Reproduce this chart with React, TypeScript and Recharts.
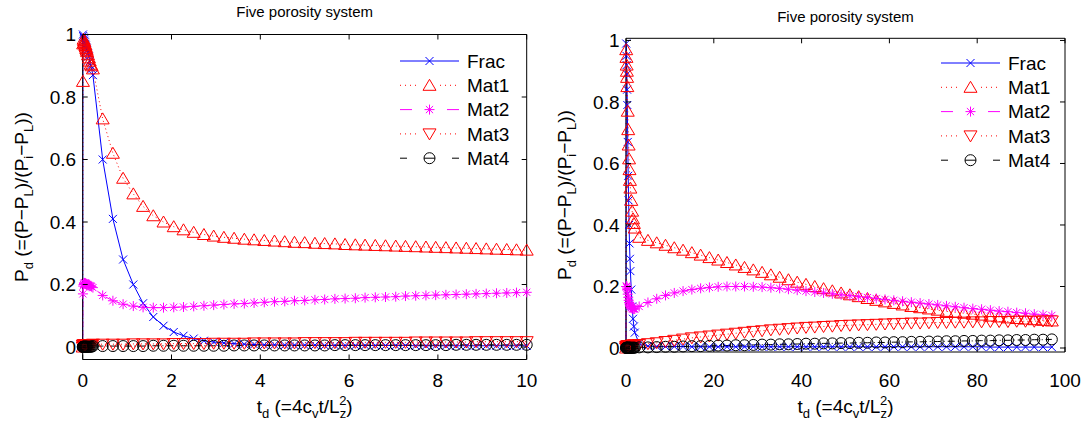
import React from 'react';
import { LineChart, Line, XAxis, YAxis } from 'recharts';

const W = 1088;
const H = 430;
const FONT = '"Liberation Sans", Arial, Helvetica, sans-serif';

// ---------------- Left panel (t_d 0..10) ----------------
const T_LEFT = [
  0, 0.005, 0.01, 0.02, 0.03, 0.04, 0.05, 0.06, 0.07, 0.08, 0.09, 0.1, 0.12, 0.14, 0.16, 0.18, 0.2,
  0.23, 0.45, 0.68, 0.91, 1.14, 1.36, 1.59, 1.82, 2.05, 2.27,
  2.5, 2.73, 2.95, 3.18, 3.41, 3.64, 3.86, 4.09, 4.32, 4.55,
  4.77, 5.0, 5.23, 5.45, 5.68, 5.91, 6.14, 6.36, 6.59, 6.82,
  7.05, 7.27, 7.5, 7.73, 7.95, 8.18, 8.41, 8.64, 8.86, 9.09,
  9.32, 9.55, 9.77, 10.0,
];
const FRAC_LEFT = [
  0, 1.0, 0.995, 0.99, 0.985, 0.98, 0.975, 0.97, 0.965, 0.96, 0.955, 0.95, 0.94, 0.93, 0.915, 0.9, 0.89,
  0.87, 0.6, 0.41, 0.28, 0.2, 0.14, 0.096, 0.068, 0.048, 0.036,
  0.027, 0.02, 0.016, 0.013, 0.011, 0.009, 0.008, 0.007, 0.007, 0.006,
  0.006, 0.006, 0.006, 0.005, 0.005, 0.005, 0.005, 0.005, 0.005, 0.005,
  0.005, 0.005, 0.004, 0.004, 0.004, 0.004, 0.004, 0.004, 0.004, 0.004,
  0.004, 0.004, 0.004, 0.004,
];
const MAT1_LEFT = [
  0, 0.85, 0.97, 0.985, 0.98, 0.975, 0.97, 0.965, 0.96, 0.955, 0.95, 0.945, 0.935, 0.925, 0.915, 0.905, 0.9,
  0.89, 0.73, 0.62, 0.54, 0.49, 0.45, 0.42, 0.4, 0.385, 0.375,
  0.367, 0.36, 0.355, 0.351, 0.348, 0.345, 0.343, 0.341, 0.339, 0.337,
  0.335, 0.334, 0.332, 0.331, 0.33, 0.328, 0.327, 0.326, 0.325, 0.324,
  0.323, 0.322, 0.321, 0.32, 0.319, 0.318, 0.317, 0.316, 0.315, 0.314,
  0.313, 0.312, 0.311, 0.31,
];
const MAT2_LEFT = [
  0, 0.17, 0.195, 0.2, 0.203, 0.205, 0.205, 0.204, 0.203, 0.202, 0.2, 0.2, 0.198, 0.197, 0.196, 0.195, 0.193,
  0.19, 0.165, 0.148, 0.137, 0.131, 0.127, 0.126, 0.126, 0.127, 0.128,
  0.13, 0.132, 0.134, 0.136, 0.138, 0.139, 0.141, 0.143, 0.145, 0.146,
  0.148, 0.149, 0.151, 0.152, 0.154, 0.155, 0.156, 0.158, 0.159, 0.16,
  0.161, 0.163, 0.164, 0.165, 0.166, 0.167, 0.168, 0.169, 0.17, 0.171,
  0.172, 0.173, 0.174, 0.175,
];
const MAT3_LEFT = [
  0, 0.005, 0.006, 0.007, 0.007, 0.008, 0.008, 0.008, 0.008, 0.008, 0.008, 0.008, 0.008, 0.008, 0.008, 0.008, 0.008,
  0.009, 0.009, 0.009, 0.009, 0.01, 0.01, 0.01, 0.01, 0.011, 0.011,
  0.011, 0.011, 0.012, 0.012, 0.012, 0.012, 0.013, 0.013, 0.013, 0.013,
  0.013, 0.014, 0.014, 0.014, 0.014, 0.014, 0.015, 0.015, 0.015, 0.015,
  0.015, 0.015, 0.016, 0.016, 0.016, 0.016, 0.016, 0.016, 0.017, 0.017,
  0.017, 0.017, 0.017, 0.017,
];
const MAT4_LEFT = [
  0, 0.001, 0.001, 0.001, 0.001, 0.001, 0.001, 0.001, 0.001, 0.001, 0.001, 0.001, 0.001, 0.001, 0.001, 0.001, 0.001,
  0.003, 0.003, 0.003, 0.003, 0.003, 0.003, 0.004, 0.004, 0.004, 0.004,
  0.004, 0.004, 0.004, 0.004, 0.005, 0.005, 0.005, 0.005, 0.005, 0.005,
  0.005, 0.005, 0.005, 0.005, 0.006, 0.006, 0.006, 0.006, 0.006, 0.006,
  0.006, 0.006, 0.006, 0.006, 0.006, 0.006, 0.007, 0.007, 0.007, 0.007,
  0.007, 0.007, 0.007, 0.007,
];

// ---------------- Right panel (t_d 0..100) ----------------
const T_RIGHT = [
  0, 0.05, 0.1, 0.15, 0.2, 0.25, 0.3, 0.4, 0.5, 0.6, 0.7, 0.8, 0.9, 1.0, 1.2, 1.4, 1.6, 1.8, 2.0,
  3, 5, 7, 9, 11, 13, 15, 17, 19, 21,
  23, 25, 27, 29, 31, 33, 35, 37, 39, 41,
  43, 45, 47, 49, 51, 53, 55, 57, 59, 61,
  63, 65, 67, 69, 71, 73, 75, 77, 79, 81,
  83, 85, 87, 89, 91, 93, 95, 97,
];
const FRAC_RIGHT = [
  0, 0.99, 0.95, 0.92, 0.89, 0.84, 0.79, 0.67, 0.56, 0.48, 0.4, 0.34, 0.29, 0.25, 0.19, 0.135, 0.095, 0.07, 0.05,
  0.015, 0.006, 0.005, 0.005, 0.005, 0.005, 0.004, 0.004, 0.004, 0.004,
  0.004, 0.004, 0.004, 0.004, 0.004, 0.004, 0.004, 0.004, 0.004, 0.004,
  0.004, 0.004, 0.004, 0.004, 0.004, 0.004, 0.004, 0.004, 0.004, 0.004,
  0.004, 0.004, 0.004, 0.004, 0.004, 0.004, 0.004, 0.004, 0.004, 0.004,
  0.003, 0.003, 0.003, 0.003, 0.003, 0.003, 0.003, 0.003,
];
const MAT1_RIGHT = [
  0, 0.97, 0.945, 0.92, 0.9, 0.88, 0.85, 0.77, 0.71, 0.66, 0.615, 0.58, 0.545, 0.52, 0.48, 0.445, 0.42, 0.405, 0.39,
  0.36, 0.35, 0.342, 0.334, 0.326, 0.318, 0.31, 0.302, 0.294, 0.286,
  0.278, 0.27, 0.262, 0.254, 0.246, 0.238, 0.23, 0.222, 0.214, 0.207,
  0.2, 0.193, 0.186, 0.179, 0.173, 0.167, 0.161, 0.155, 0.15, 0.145,
  0.14, 0.135, 0.131, 0.127, 0.123, 0.119, 0.116, 0.113, 0.11, 0.107,
  0.104, 0.101, 0.098, 0.096, 0.094, 0.092, 0.09, 0.088,
];
const MAT2_RIGHT = [
  0, 0.2, 0.2, 0.2, 0.2, 0.195, 0.19, 0.175, 0.165, 0.155, 0.148, 0.143, 0.139, 0.135, 0.131, 0.128, 0.127, 0.127, 0.127,
  0.135, 0.148, 0.16, 0.171, 0.179, 0.185, 0.19, 0.194, 0.197, 0.199,
  0.2, 0.2, 0.2, 0.199, 0.198, 0.196, 0.194, 0.191, 0.188, 0.185,
  0.182, 0.179, 0.176, 0.173, 0.17, 0.167, 0.164, 0.161, 0.158, 0.155,
  0.152, 0.149, 0.146, 0.143, 0.14, 0.137, 0.134, 0.131, 0.128, 0.126,
  0.123, 0.12, 0.118, 0.115, 0.113, 0.11, 0.108, 0.106,
];
const MAT3_RIGHT = [
  0, 0.004, 0.005, 0.005, 0.006, 0.006, 0.006, 0.007, 0.007, 0.007, 0.008, 0.008, 0.008, 0.008, 0.009, 0.009, 0.009, 0.01, 0.01,
  0.011, 0.014, 0.017, 0.021, 0.025, 0.029, 0.033, 0.036, 0.039, 0.042,
  0.045, 0.048, 0.051, 0.054, 0.056, 0.059, 0.061, 0.063, 0.065, 0.067,
  0.068, 0.07, 0.071, 0.073, 0.074, 0.075, 0.076, 0.077, 0.078, 0.079,
  0.08, 0.081, 0.081, 0.082, 0.083, 0.083, 0.084, 0.084, 0.085, 0.085,
  0.086, 0.086, 0.086, 0.087, 0.087, 0.087, 0.088, 0.088,
];
const MAT4_RIGHT = [
  0, 0.001, 0.001, 0.001, 0.001, 0.001, 0.001, 0.001, 0.001, 0.001, 0.001, 0.001, 0.001, 0.001, 0.001, 0.001, 0.001, 0.001, 0.001,
  0.002, 0.002, 0.003, 0.004, 0.004, 0.005, 0.006, 0.006, 0.007, 0.008,
  0.008, 0.009, 0.009, 0.01, 0.011, 0.011, 0.012, 0.012, 0.013, 0.014,
  0.014, 0.015, 0.015, 0.016, 0.016, 0.017, 0.017, 0.018, 0.018, 0.019,
  0.019, 0.02, 0.02, 0.021, 0.021, 0.022, 0.022, 0.023, 0.023, 0.024,
  0.024, 0.025, 0.025, 0.026, 0.026, 0.027, 0.027, 0.028,
];

const LEFT_X_TICKS = [0, 2, 4, 6, 8, 10];
const RIGHT_X_TICKS = [0, 20, 40, 60, 80, 100];
const Y_TICKS = [0, 0.2, 0.4, 0.6, 0.8, 1];

const TITLE = 'Five porosity system';
const SERIES_NAMES = ['Frac', 'Mat1', 'Mat2', 'Mat3', 'Mat4'];

type Kind = 'x' | 'tri' | 'star' | 'tridown' | 'circle';
const STYLES: { color: string; kind: Kind; dash?: string }[] = [
  { color: '#0000ff', kind: 'x' },
  { color: '#ff0000', kind: 'tri', dash: '1 3' },
  { color: '#ff00ff', kind: 'star', dash: '6 4' },
  { color: '#ff0000', kind: 'tridown', dash: '1 3' },
  { color: '#000000', kind: 'circle', dash: '7 3 1 3' },
];

function Mark({ kind, cx, cy, color }: { kind: Kind; cx: number; cy: number; color: string }) {
  const common = { stroke: color, strokeWidth: 1, fill: 'none' };
  switch (kind) {
    case 'x':
      return <path d={`M${cx - 4},${cy - 4}L${cx + 4},${cy + 4}M${cx - 4},${cy + 4}L${cx + 4},${cy - 4}`} {...common} />;
    case 'tri':
      return <path d={`M${cx},${cy - 6}L${cx + 6.5},${cy + 5}L${cx - 6.5},${cy + 5}Z`} {...common} />;
    case 'tridown':
      return <path d={`M${cx - 6.5},${cy - 5}L${cx + 6.5},${cy - 5}L${cx},${cy + 6}Z`} {...common} />;
    case 'star':
      return (
        <path
          d={`M${cx - 5},${cy}L${cx + 5},${cy}M${cx},${cy - 5}L${cx},${cy + 5}M${cx - 3.6},${cy - 3.6}L${cx + 3.6},${cy + 3.6}M${cx - 3.6},${cy + 3.6}L${cx + 3.6},${cy - 3.6}`}
          {...common}
        />
      );
    default:
      return <circle cx={cx} cy={cy} r={5.5} {...common} />;
  }
}

const toPts = (t: number[], v: number[]) => t.map((x, i) => ({ t: x, y: v[i] }));

type Box = { x0: number; x1: number; y0: number; y1: number };
const TL = 5;
const LABEL_BASELINE = 387;

function Panel({
  t,
  series,
  box,
  xDomain,
  yDomain,
  xTicks,
}: {
  t: number[];
  series: number[][];
  box: Box;
  xDomain: [number, number];
  yDomain: [number, number];
  xTicks: number[];
}) {
  // each axis takes 1px of the margin (Recharts does not draw zero-size axes)
  const margin = { left: box.x0 - 1, right: W - box.x1 - 1, top: box.y0 - 1, bottom: H - box.y1 - 1 };
  const bottomTick = (p: any) => (
    <g>
      <line x1={p.x} y1={p.y} x2={p.x} y2={p.y - TL} stroke="#000" />
      <text x={p.x} y={LABEL_BASELINE} textAnchor="middle" fontSize={19} fontFamily={FONT} fill="#000">
        {String(p.payload.value)}
      </text>
    </g>
  );
  const topTick = (p: any) => <line x1={p.x} y1={p.y} x2={p.x} y2={p.y + TL} stroke="#000" />;
  const leftTick = (p: any) => (
    <g>
      <line x1={p.x} y1={p.y} x2={p.x + TL} y2={p.y} stroke="#000" />
      <text x={p.x - 6.5} y={p.y + 6.8} textAnchor="end" fontSize={19} fontFamily={FONT} fill="#000">
        {String(p.payload.value)}
      </text>
    </g>
  );
  const rightTick = (p: any) => <line x1={p.x} y1={p.y} x2={p.x - TL} y2={p.y} stroke="#000" />;
  const axisLine = { stroke: '#000', strokeWidth: 1 };
  return (
    <div style={{ position: 'absolute', left: 0, top: 0 }}>
      <LineChart width={W} height={H} margin={margin}>
        <XAxis
          xAxisId="b"
          type="number"
          dataKey="t"
          domain={xDomain}
          ticks={xTicks}
          interval={0}
          height={1}
          tickSize={0}
          tickMargin={0}
          tickLine={false}
          axisLine={axisLine}
          tick={bottomTick}
        />
        <XAxis
          xAxisId="top"
          orientation="top"
          type="number"
          dataKey="t"
          domain={xDomain}
          ticks={xTicks}
          interval={0}
          height={1}
          tickSize={0}
          tickMargin={0}
          tickLine={false}
          axisLine={axisLine}
          tick={topTick}
          allowDataOverflow
        />
        <YAxis
          yAxisId="l"
          type="number"
          domain={yDomain}
          ticks={Y_TICKS}
          interval={0}
          width={1}
          tickSize={0}
          tickMargin={0}
          tickLine={false}
          axisLine={axisLine}
          tick={leftTick}
        />
        <YAxis
          yAxisId="r"
          orientation="right"
          type="number"
          domain={yDomain}
          ticks={Y_TICKS}
          interval={0}
          width={1}
          tickSize={0}
          tickMargin={0}
          tickLine={false}
          axisLine={axisLine}
          tick={rightTick}
          allowDataOverflow
        />
        {series.map((vals, si) => {
          const st = STYLES[si];
          return (
            <Line
              key={SERIES_NAMES[si]}
              name={SERIES_NAMES[si]}
              xAxisId="b"
              yAxisId="l"
              data={toPts(t, vals)}
              dataKey="y"
              type="linear"
              stroke={st.color}
              strokeWidth={1}
              strokeDasharray={st.dash}
              isAnimationActive={false}
              activeDot={false}
              dot={(p: any) => (
                <g key={`${si}-${p.index}`}>
                  {p.cx == null || p.cy == null ? null : <Mark kind={st.kind} cx={p.cx} cy={p.cy} color={st.color} />}
                </g>
              )}
            />
          );
        })}
      </LineChart>
    </div>
  );
}

function LegendBlock({ x0, y0 }: { x0: number; y0: number }) {
  const step = 24.3;
  return (
    <g>
      {SERIES_NAMES.map((name, i) => {
        const st = STYLES[i];
        const y = y0 + i * step;
        const mx = x0 + 29.5;
        let sample: React.ReactNode;
        if (st.kind === 'x') {
          sample = <line x1={x0} y1={y} x2={x0 + 59} y2={y} stroke={st.color} />;
        } else if (st.kind === 'tri' || st.kind === 'tridown') {
          sample = (
            <g>
              <line x1={x0} y1={y} x2={x0 + 20} y2={y} stroke={st.color} strokeDasharray="1 4" />
              <line x1={x0 + 40} y1={y} x2={x0 + 60} y2={y} stroke={st.color} strokeDasharray="1 4" />
            </g>
          );
        } else if (st.kind === 'star') {
          sample = (
            <g>
              <line x1={x0} y1={y} x2={x0 + 12} y2={y} stroke={st.color} />
              <line x1={x0 + 47} y1={y} x2={x0 + 59} y2={y} stroke={st.color} />
            </g>
          );
        } else {
          sample = (
            <g>
              <line x1={x0} y1={y} x2={x0 + 7} y2={y} stroke={st.color} />
              <line x1={x0 + 24} y1={y} x2={x0 + 35} y2={y} stroke={st.color} />
              <line x1={x0 + 52} y1={y} x2={x0 + 59} y2={y} stroke={st.color} />
            </g>
          );
        }
        return (
          <g key={name}>
            {sample}
            <Mark kind={st.kind} cx={mx} cy={y} color={st.color} />
            <text x={x0 + 67} y={y + 6.8} fontSize={19} fontFamily={FONT} fill="#000">
              {name}
            </text>
          </g>
        );
      })}
    </g>
  );
}

function YLabel({ x, cy }: { x: number; cy: number }) {
  return (
    <text transform={`translate(${x},${cy}) rotate(-90)`} textAnchor="middle" fontSize={19} fontFamily={FONT} fill="#000">
      {'P'}
      <tspan dy={5} fontSize={13}>d</tspan>
      <tspan dy={-5}>{' (=(P\u2212P'}</tspan>
      <tspan dy={5} fontSize={13}>L</tspan>
      <tspan dy={-5}>{')/(P'}</tspan>
      <tspan dy={5} fontSize={13}>i</tspan>
      <tspan dy={-5}>{'\u2212P'}</tspan>
      <tspan dy={5} fontSize={13}>L</tspan>
      <tspan dy={-5}>{'))'}</tspan>
    </text>
  );
}

function XLabel({ cx, y }: { cx: number; y: number }) {
  return (
    <text x={cx} y={y} textAnchor="middle" fontSize={19} fontFamily={FONT} fill="#000">
      {'t'}
      <tspan dy={5} fontSize={13}>d</tspan>
      <tspan dy={-5}>{' (=4c'}</tspan>
      <tspan dy={5} fontSize={13}>v</tspan>
      <tspan dy={-5}>{'t/L'}</tspan>
      <tspan dy={5} fontSize={13}>z</tspan>
      <tspan dx={-7} dy={-13} fontSize={13}>2</tspan>
      <tspan dy={8}>{')'}</tspan>
    </text>
  );
}

const LEFT_BOX: Box = { x0: 82.7, x1: 526.7, y0: 34.5, y1: 359.5 };
const RIGHT_BOX: Box = { x0: 626, x1: 1065, y0: 38.3, y1: 352 };

export default function App() {
  return (
    <div style={{ position: 'absolute', left: 0, top: 0, width: W, height: H, background: '#fff', overflow: 'hidden' }}>
      <Panel
        t={T_LEFT}
        series={[FRAC_LEFT, MAT1_LEFT, MAT2_LEFT, MAT3_LEFT, MAT4_LEFT]}
        box={LEFT_BOX}
        xDomain={[0, 10]}
        yDomain={[-0.04, 1]}
        xTicks={LEFT_X_TICKS}
      />
      <Panel
        t={T_RIGHT}
        series={[FRAC_RIGHT, MAT1_RIGHT, MAT2_RIGHT, MAT3_RIGHT, MAT4_RIGHT]}
        box={RIGHT_BOX}
        xDomain={[0, 100]}
        yDomain={[-0.013, 1.007]}
        xTicks={RIGHT_X_TICKS}
      />
      <svg width={W} height={H} style={{ position: 'absolute', left: 0, top: 0, pointerEvents: 'none' }}>
        <text x={(LEFT_BOX.x0 + LEFT_BOX.x1) / 2} y={17} textAnchor="middle" fontSize={15} fontFamily={FONT} fill="#000">
          {TITLE}
        </text>
        <text x={(RIGHT_BOX.x0 + RIGHT_BOX.x1) / 2} y={22} textAnchor="middle" fontSize={15} fontFamily={FONT} fill="#000">
          {TITLE}
        </text>
        <YLabel x={28} cy={197} />
        <YLabel x={571} cy={195} />
        <XLabel cx={(LEFT_BOX.x0 + LEFT_BOX.x1) / 2} y={413} />
        <XLabel cx={(RIGHT_BOX.x0 + RIGHT_BOX.x1) / 2} y={413} />
        <LegendBlock x0={400} y0={61} />
        <LegendBlock x0={941} y0={63} />
      </svg>
    </div>
  );
}
